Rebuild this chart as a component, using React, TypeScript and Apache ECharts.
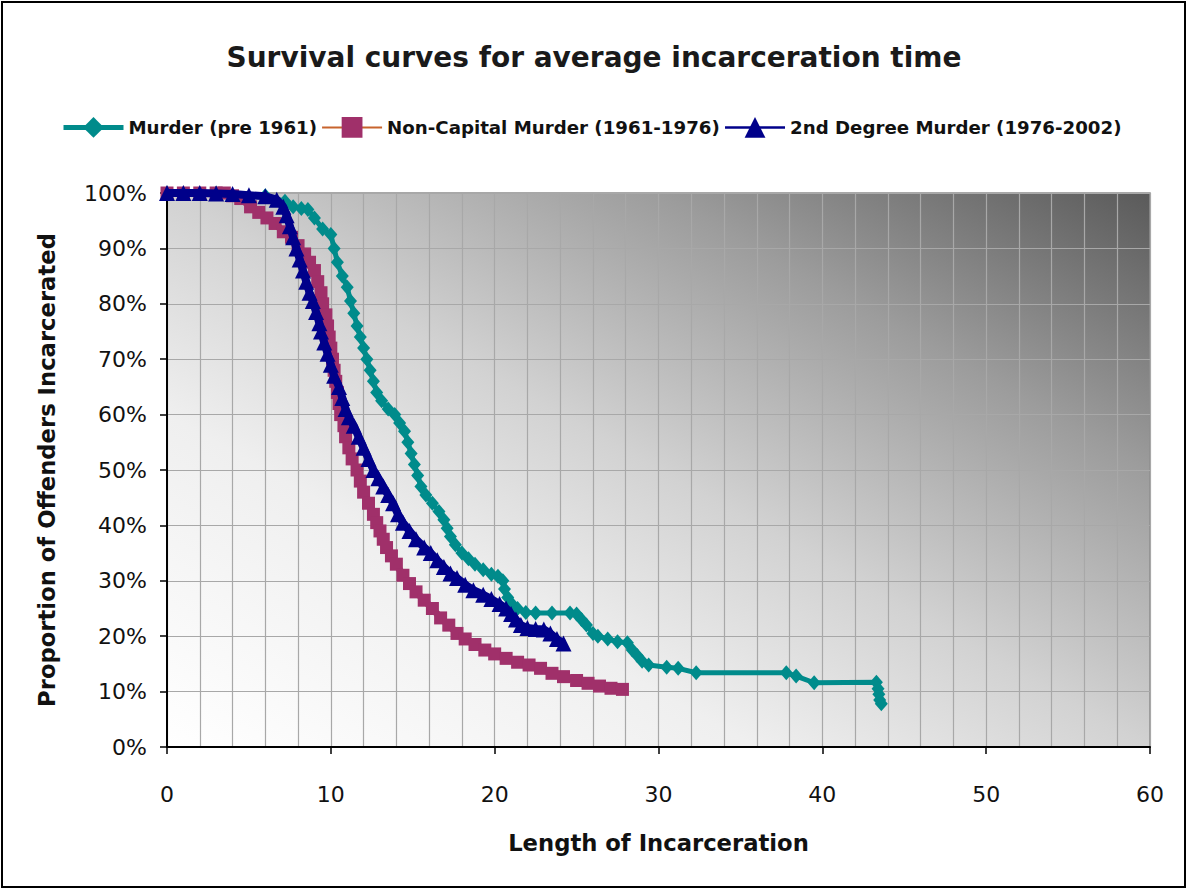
import React, { useEffect, useRef } from "react";
import * as echarts from "echarts";

const chartTitle = "Survival curves for average incarceration time";
const seriesNames = [
  "Murder (pre 1961)",
  "Non-Capital Murder (1961-1976)",
  "2nd Degree Murder (1976-2002)",
];
const xAxisTitle = "Length of Incarceration";
const yAxisTitle = "Proportion of Offenders Incarcerated";

// [years, % still incarcerated]
const murderPre1961: [number, number][] = [
  [0, 100], [3, 100], [6, 99.5], [7.2, 98.5], [7.7, 97.5], [8.2, 97.2], [8.6, 97],
  [9.0, 95.5], [9.5, 93.5], [10.0, 92.5], [10.2, 90], [10.4, 87.5], [10.7, 85], [11.0, 83],
  [11.2, 80.5], [11.4, 78.3], [11.6, 76], [11.8, 74], [12.0, 72], [12.2, 70], [12.4, 68],
  [12.6, 66], [12.8, 64], [13.1, 62.5], [13.5, 61], [13.9, 60], [14.2, 58.5], [14.5, 57],
  [14.7, 55], [14.9, 53], [15.1, 51], [15.3, 49], [15.5, 47], [15.8, 45.5], [16.2, 44],
  [16.6, 42.5], [16.9, 41], [17.1, 39.5], [17.3, 38], [17.6, 36.5], [18.0, 35], [18.4, 34],
  [18.8, 33], [19.3, 32], [19.8, 31.2], [20.2, 30.8], [20.5, 30], [20.6, 28.5], [20.8, 27],
  [21.0, 26], [21.4, 25], [21.9, 24.3], [22.5, 24.2], [23.5, 24.2], [24.6, 24.2], [25.0, 24],
  [25.3, 23], [25.6, 22], [26.0, 20.5], [26.3, 20], [26.9, 19.5], [27.5, 19], [28.1, 18.8],
  [28.4, 17.5], [28.7, 16.5], [29.0, 15.5], [29.4, 14.8], [30.5, 14.4], [31.2, 14.2],
  [32.3, 13.4], [37.8, 13.4], [38.4, 12.8], [39.5, 11.6], [43.3, 11.7], [43.4, 10.5],
  [43.45, 9.5], [43.5, 8.5], [43.6, 7.8],
];

const nonCapital1961to1976: [number, number][] = [
  [0, 100], [1, 100], [2, 100], [3, 100], [3.5, 100], [4, 99.5], [4.5, 99], [5.1, 97.5],
  [5.6, 96.5], [6.1, 95.5], [6.6, 94.5], [7.1, 93], [7.6, 92], [8.0, 90.5], [8.4, 89],
  [8.7, 87.5], [9.0, 86], [9.2, 84], [9.4, 82], [9.5, 80], [9.7, 78], [9.8, 76], [9.9, 74],
  [10.0, 72], [10.1, 70], [10.2, 68], [10.3, 66], [10.4, 64], [10.5, 62], [10.6, 60],
  [10.8, 58], [10.9, 56], [11.1, 54], [11.3, 52], [11.6, 50], [11.8, 48], [12.0, 46],
  [12.3, 44], [12.6, 42], [12.8, 40.5], [13.0, 39], [13.2, 37.5], [13.4, 36], [13.7, 34.5],
  [14.0, 33], [14.4, 31], [14.8, 29.5], [15.2, 28], [15.7, 26.5], [16.2, 25], [16.7, 23.3],
  [17.2, 22], [17.7, 20.5], [18.2, 19.5], [18.8, 18.5], [19.4, 17.5], [20.0, 16.8],
  [20.7, 16], [21.4, 15.3], [22.1, 14.8], [22.8, 14.2], [23.5, 13.3], [24.2, 12.7],
  [25.0, 12], [25.7, 11.5], [26.4, 11], [27.1, 10.6], [27.8, 10.4],
];

const secondDegree1976to2002: [number, number][] = [
  [0, 100], [1, 100], [2, 100], [3, 99.9], [4, 99.8], [5, 99.6], [6, 99.4], [6.7, 98.8],
  [7.1, 97.5], [7.3, 96], [7.5, 94], [7.7, 92], [7.9, 90], [8.1, 88], [8.3, 86], [8.5, 84],
  [8.7, 82], [8.9, 80.5], [9.1, 78.5], [9.3, 76.5], [9.4, 75], [9.6, 73], [9.8, 71],
  [10.0, 69], [10.2, 67], [10.5, 65], [10.7, 63], [10.9, 61], [11.1, 59.5], [11.4, 58],
  [11.7, 56], [12.0, 54], [12.3, 52], [12.6, 50], [12.9, 48.5], [13.2, 47], [13.5, 45.5],
  [13.8, 44], [14.1, 42], [14.4, 40.5], [14.8, 39], [15.2, 37.5], [15.7, 36], [16.1, 35],
  [16.5, 33.7], [16.9, 32.5], [17.3, 31.3], [17.7, 30.5], [18.2, 29.3], [18.7, 28.3],
  [19.3, 27.5], [19.8, 26.7], [20.3, 25.8], [20.7, 25], [21.0, 24], [21.3, 23], [21.6, 22],
  [22.0, 21.5], [22.5, 21.3], [23.0, 21.2], [23.4, 20.5], [23.8, 19.5], [24.2, 18.7],
];

const FONT = "'DejaVu Sans', 'Liberation Sans', Arial, sans-serif";

export default function App() {
  const ref = useRef<HTMLDivElement>(null);

  useEffect(() => {
    if (!ref.current) return;
    const chart = echarts.init(ref.current, null, { renderer: "svg" });
    const teal = "#008B8B";
    const maroon = "#A0306A";
    const navy = "#00008A";
    chart.setOption({
      animation: false,
      backgroundColor: "#ffffff",
      title: {
        text: chartTitle,
        left: "center",
        top: 38,
        textStyle: { fontFamily: FONT, fontWeight: "bold", fontSize: 28, color: "#1a1a1a" },
      },
      legend: {
        left: 56,
        top: 112,
        itemWidth: 60,
        itemHeight: 26,
        itemGap: 4,
        textStyle: { fontFamily: FONT, fontWeight: "bold", fontSize: 18.2, color: "#111" },
        data: [
          { name: seriesNames[0], lineStyle: { width: 5 } },
          { name: seriesNames[1], lineStyle: { color: "#C8642D", width: 2 } },
          { name: seriesNames[2], lineStyle: { width: 2.5 } },
        ],
      },
      grid: {
        left: 167,
        right: 38,
        top: 193,
        bottom: 144,
        show: true,
        borderColor: "#8c8c8c",
        borderWidth: 1.5,
        backgroundColor: new echarts.graphic.LinearGradient(0, 1, 1, 0, [
          { offset: 0, color: "#ffffff" },
          { offset: 0.3, color: "#efefef" },
          { offset: 0.5, color: "#d2d2d2" },
          { offset: 0.75, color: "#9c9c9c" },
          { offset: 1, color: "#5a5a5a" },
        ]),
      },
      xAxis: {
        type: "value",
        min: 0,
        max: 60,
        interval: 10,
        name: xAxisTitle,
        nameLocation: "middle",
        nameGap: 84,
        nameTextStyle: { fontFamily: FONT, fontWeight: "bold", fontSize: 22.7, color: "#111" },
        axisLine: { show: true, lineStyle: { color: "#000", width: 2 } },
        axisTick: { show: true, length: 7, lineStyle: { color: "#000", width: 1.5 } },
        axisLabel: { margin: 36, fontFamily: FONT, fontSize: 22, color: "#111" },
        splitLine: { show: true, lineStyle: { color: "#a8a8a8", width: 1.2 } },
        minorTick: { show: false, splitNumber: 5 },
        minorSplitLine: { show: true, lineStyle: { color: "#a8a8a8", width: 1.2 } },
      },
      yAxis: {
        type: "value",
        min: 0,
        max: 100,
        interval: 10,
        name: yAxisTitle,
        nameLocation: "middle",
        nameGap: 109,
        nameTextStyle: { fontFamily: FONT, fontWeight: "bold", fontSize: 22.7, color: "#111" },
        axisLine: { show: true, lineStyle: { color: "#000", width: 2 } },
        axisTick: { show: true, length: 7, lineStyle: { color: "#000", width: 1.5 } },
        axisLabel: { margin: 20, formatter: "{value}%", fontFamily: FONT, fontSize: 22, color: "#111" },
        splitLine: { show: true, lineStyle: { color: "#a8a8a8", width: 1.2 } },
      },
      graphic: [
        {
          type: "rect",
          shape: { x: 2, y: 2, width: 1183, height: 885 },
          style: { fill: "none", stroke: "#000", lineWidth: 2 },
          silent: true,
        },
      ],
      series: [
        {
          name: seriesNames[0],
          type: "line",
          data: murderPre1961,
          symbol: "diamond",
          symbolSize: [13, 15],
          showAllSymbol: true,
          lineStyle: { color: teal, width: 5 },
          itemStyle: { color: teal, borderWidth: 0 },
          z: 3,
        },
        {
          name: seriesNames[1],
          type: "line",
          data: nonCapital1961to1976,
          symbol: "rect",
          symbolSize: 13,
          showAllSymbol: true,
          lineStyle: { color: maroon, width: 7 },
          itemStyle: { color: maroon, borderWidth: 0 },
          z: 4,
        },
        {
          name: seriesNames[2],
          type: "line",
          data: secondDegree1976to2002,
          symbol: "triangle",
          symbolSize: 16,
          showAllSymbol: true,
          lineStyle: { color: navy, width: 8 },
          itemStyle: { color: navy, borderWidth: 0 },
          z: 5,
        },
      ],
    });
    return () => chart.dispose();
  }, []);

  return (
    <div
      ref={ref}
      style={{ position: "absolute", left: 0, top: 0, width: 1188, height: 891 }}
    />
  );
}
